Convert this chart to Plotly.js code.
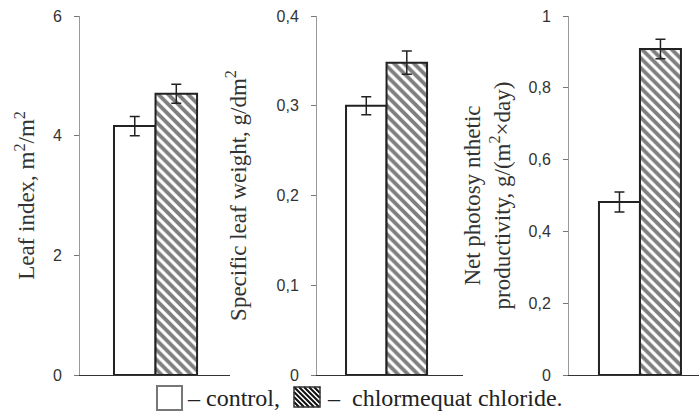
<!DOCTYPE html>
<html>
<head>
<meta charset="utf-8">
<script src="https://cdn.plot.ly/plotly-3.0.1.min.js"></script>
<style>html,body{margin:0;padding:0;background:#fff;}#chart{width:699px;height:418px;}</style>
</head>
<body>
<div id="chart"></div>
<script>
// ---- data ----
var panels = ["Leaf index", "Specific leaf weight", "Net photosynthetic productivity"];
var controlValues = [4.16, 0.30, 0.482];
var controlErrors = [0.16, 0.010, 0.028];
var chlormequatValues = [4.70, 0.348, 0.908];
var chlormequatErrors = [0.16, 0.013, 0.027];
var seriesNames = ["control", "chlormequat chloride"];
var yTitles = [
  "Leaf index, m<sup>2</sup>/m<sup>2</sup>",
  "Specific leaf weight, g/dm<sup>2</sup>",
  "Net photosy nthetic<br>productivity, g/(m<sup>2</sup>×day)"
];
var yRanges = [[0, 6], [0, 0.4], [0, 1]];
var yDticks = [2, 0.1, 0.2];
var legendLabels = ["– control,", "–  chlormequat chloride."];

// ---- layout helpers ----
var W = 699, H = 418, MT = 16, MB = 43;
function px(x) { return x / W; }
function py(y) { return (H - MB - y) / (H - MT - MB); }

var xDomains = [[80 / W, 230 / W], [317 / W, 463 / W], [569 / W, 1]];
var xRanges = [[-0.5, 0.493], [-0.472, 0.519], [-0.476, 0.396]];
var standoffs = [11, 23, 11];
var labelStandoffs = [9, 9, 9];

var serif = "Liberation Serif, Times New Roman, serif";
var sans = "Liberation Sans, Arial, sans-serif";

var traces = [];
for (var i = 0; i < 3; i++) {
  var xa = i === 0 ? "x" : "x" + (i + 1);
  var ya = i === 0 ? "y" : "y" + (i + 1);
  traces.push({
    type: "bar", x: [panels[i]], y: [controlValues[i]], name: seriesNames[0],
    xaxis: xa, yaxis: ya, showlegend: false,
    marker: { color: "#ffffff", line: { color: "#222", width: 2 } },
    error_y: { type: "data", array: [controlErrors[i]], visible: true, color: "#222", thickness: 1.5, width: 5 }
  });
  traces.push({
    type: "bar", x: [panels[i]], y: [chlormequatValues[i]], name: seriesNames[1],
    xaxis: xa, yaxis: ya, showlegend: false,
    marker: { color: "#ffffff", line: { color: "#222", width: 2 },
      pattern: { shape: "\\", fgcolor: "#000", bgcolor: "#ffffff", size: 7, solidity: 0.55, fillmode: "overlay" } },
    error_y: { type: "data", array: [chlormequatErrors[i]], visible: true, color: "#222", thickness: 1.5, width: 5 }
  });
}

var layout = {
  width: W, height: H,
  margin: { l: 0, r: 0, t: MT, b: MB },
  paper_bgcolor: "#fff", plot_bgcolor: "rgba(0,0,0,0)",
  barmode: "group", bargap: 0.45, bargroupgap: 0,
  separators: ", ",
  showlegend: false,
  shapes: [],
  annotations: []
};

for (var i = 0; i < 3; i++) {
  var sx = i === 0 ? "" : String(i + 1);
  layout["xaxis" + sx] = {
    domain: xDomains[i], range: xRanges[i], type: "category",
    showticklabels: false, ticks: "", showgrid: false, zeroline: false,
    showline: true, linecolor: "#333", linewidth: 1,
    anchor: i === 0 ? "y" : "y" + (i + 1), fixedrange: true
  };
  layout["yaxis" + sx] = {
    domain: [0, 1], range: yRanges[i], dtick: yDticks[i], tick0: 0,
    anchor: i === 0 ? "x" : "x" + (i + 1),
    showgrid: false, zeroline: false,
    showline: true, linecolor: "#999", linewidth: 1,
    ticks: "outside", ticklen: 5, tickcolor: "#777", tickwidth: 1,
    ticklabelstandoff: labelStandoffs[i],
    tickfont: { family: sans, size: 16, color: "#333" },
    automargin: false,
    title: { text: yTitles[i], font: { family: serif, size: 23, color: "#333" }, standoff: standoffs[i] },
    fixedrange: true
  };
}

// legend swatches (decoration)
layout.shapes.push({ type: "rect", xref: "paper", yref: "paper",
  x0: px(157), x1: px(182), y0: py(410), y1: py(386),
  line: { color: "#777", width: 2 }, fillcolor: "#fff" });
var hx0 = 294, hx1 = 320, hy0 = 387, hy1 = 407, step = 5;
var w = hx1 - hx0, h = hy1 - hy0, d = "";
for (var k = -h; k < w; k += step) {
  var t0 = Math.max(0, -k), t1 = Math.min(h, w - k);
  if (t1 <= t0) continue;
  d += "M" + px(hx0 + k + t0) + "," + py(hy0 + t0) + "L" + px(hx0 + k + t1) + "," + py(hy0 + t1);
}
layout.shapes.push({ type: "path", xref: "paper", yref: "paper", path: d, line: { color: "#111", width: 2 } });
layout.shapes.push({ type: "rect", xref: "paper", yref: "paper",
  x0: px(hx0), x1: px(hx1), y0: py(hy1), y1: py(hy0),
  line: { color: "#333", width: 1.5 } });

layout.annotations.push({ xref: "paper", yref: "paper", x: px(185), y: py(398), xanchor: "left", yanchor: "middle",
  text: legendLabels[0], showarrow: false, font: { family: serif, size: 24, color: "#222" } });
layout.annotations.push({ xref: "paper", yref: "paper", x: px(325), y: py(398), xanchor: "left", yanchor: "middle",
  text: legendLabels[1], showarrow: false, font: { family: serif, size: 24, color: "#222" } });

Plotly.newPlot("chart", traces, layout, { displayModeBar: false, staticPlot: true });
</script>
</body>
</html>
